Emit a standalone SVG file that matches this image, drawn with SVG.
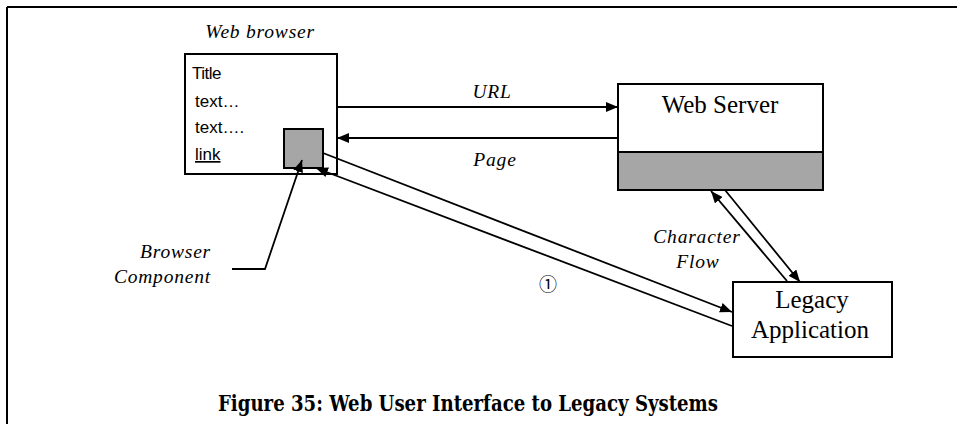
<svg xmlns="http://www.w3.org/2000/svg" width="957" height="424" viewBox="0 0 957 424">
<style>
.box{fill:#fff;stroke:#000;stroke-width:2}
.gray{fill:#a6a6a6;stroke:#000;stroke-width:2}
.ln{fill:none;stroke:#000;stroke-width:1.8}
.sans{font-family:'Liberation Sans',sans-serif;font-size:17px;fill:#000}
.ser{font-family:'Liberation Serif',serif;font-size:25px;fill:#000}
.it{font-family:'Liberation Serif',serif;font-style:italic;font-size:19.5px;fill:#000;letter-spacing:0.8px}
.cap{font-family:'DejaVu Serif',serif;font-weight:bold;font-size:22.5px;fill:#000}
</style>
<defs>
<marker id="ah" markerUnits="userSpaceOnUse" markerWidth="14" markerHeight="12" refX="12" refY="5" orient="auto">
<path d="M0,0 L12,5 L0,10 z" fill="#000"/>
</marker>
</defs>
<g id="frame">
<line x1="7" y1="7" x2="957" y2="7" stroke="#000" stroke-width="2"/>
<line x1="7" y1="7" x2="7" y2="424" stroke="#000" stroke-width="2"/>
</g>
<g id="web-browser">
<text class="it" x="260" y="38" text-anchor="middle">Web browser</text>
<rect class="box" x="185" y="54" width="152" height="120"/>
<text class="sans" x="192" y="79" letter-spacing="-0.5">Title</text>
<text class="sans" x="195" y="107">text…</text>
<text class="sans" x="195" y="133">text….</text>
<text class="sans" x="195" y="160" text-decoration="underline">link</text>
</g>
<g id="browser-component">
<rect class="gray" x="284" y="129" width="39" height="39"/>
<text class="it" x="211" y="258" text-anchor="end">Browser</text>
<text class="it" x="211" y="283" text-anchor="end">Component</text>
</g>
<g id="web-server">
<rect class="box" x="618" y="84" width="205" height="68"/>
<rect class="gray" x="618" y="152" width="205" height="38"/>
<text class="ser" x="720" y="113" text-anchor="middle">Web Server</text>
</g>
<g id="legacy-application">
<rect class="box" x="733" y="282" width="159" height="75"/>
<text class="ser" x="812" y="308" text-anchor="middle">Legacy</text>
<text class="ser" x="810" y="338" text-anchor="middle">Application</text>
</g>
<g id="connectors">
<line class="ln" x1="337" y1="107" x2="618" y2="107" marker-end="url(#ah)"/>
<line class="ln" x1="618" y1="138" x2="337" y2="138" marker-end="url(#ah)"/>
<line class="ln" x1="323" y1="153" x2="732" y2="312" marker-end="url(#ah)"/>
<line class="ln" x1="732" y1="326" x2="316" y2="168" marker-end="url(#ah)"/>
<line class="ln" x1="787" y1="281" x2="711" y2="191" marker-end="url(#ah)"/>
<line class="ln" x1="725" y1="190" x2="800" y2="282" marker-end="url(#ah)"/>
<polyline class="ln" points="232,269 265,269 302,160" marker-end="url(#ah)"/>
</g>
<g id="labels">
<text class="it" x="492" y="98" text-anchor="middle">URL</text>
<text class="it" x="495" y="166" text-anchor="middle">Page</text>
<text class="it" x="697" y="243" text-anchor="middle">Character</text>
<text class="it" x="698" y="268" text-anchor="middle">Flow</text>
<text x="548" y="291" text-anchor="middle" font-family="'Liberation Serif','Noto Sans CJK JP',serif" font-size="18">①</text>
</g>
<text class="cap" x="468" y="411" text-anchor="middle" textLength="500" lengthAdjust="spacingAndGlyphs">Figure 35: Web User Interface to Legacy Systems</text>
</svg>
